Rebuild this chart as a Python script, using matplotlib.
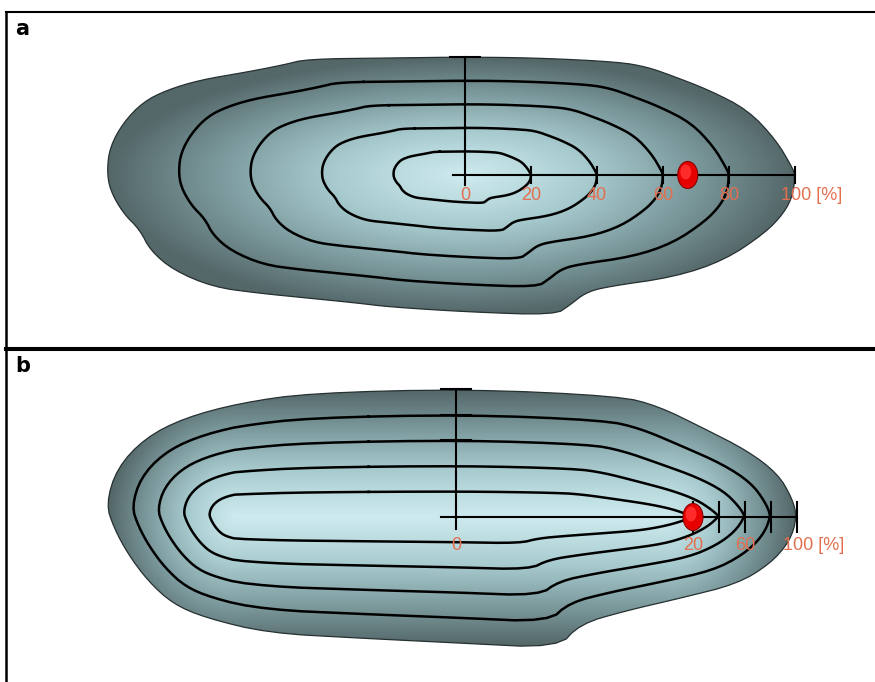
import numpy as np
import matplotlib.pyplot as plt
from matplotlib.patches import Polygon, Ellipse
from matplotlib.colors import LinearSegmentedColormap

# outline of each section, relative to the axis origin (y up)
outline_a_x = [-158, -75, 1, 75, 154, 182, 205, 244, 283, 311, 327, 330, 328, 319, 300,
               260, 210, 140, 120, 105, 90, 4, -75, -108, -158, -208, -252, -292, -315,
               -325, -342, -355, -358, -355, -342, -322, -298, -265, -218, -182]
outline_a_y = [116, 117, 118, 117, 113, 108, 100, 85, 65, 35, 8, 0, -20, -38, -58,
               -85, -102, -112, -118, -130, -140, -137, -132, -128, -123, -118, -112, -95, -75,
               -55, -38, -15, 5, 28, 52, 73, 85, 95, 103, 110]

outline_b_x = [-146, 10, 163, 202, 247, 292, 322, 336, 341, 334, 314, 281, 225, 169, 124,
               102, 2, -99, -188, -250, -283, -308, -328, -342, -350, -339, -311, -272, -216]
outline_b_y = [124, 128, 121, 111, 89, 66, 43, 19, 0, -24, -47, -67, -81, -94, -107,
               -131, -126, -121, -116, -101, -87, -64, -37, -11, 13, 49, 79, 99, 114]

# core that the contours shrink towards (left end, right end) on the x axis
core_a = (0, 0)
core_b = (-221, 211)

levels = [20, 40, 60, 80]  # % of the way from core to outline

ticks_a = [0, 20, 40, 60, 80, 100]
labels_a = ['0', '20', '40', '60', '80', '100 [%]']
ticks_b = [0, 20, 40, 60, 80, 100]
labels_b = ['0', '20', '', '60', '', '100 [%]']
vticks_a = [40, 80, 100]
vticks_b = [60, 80, 100]

dot_a = 67.5
dot_b = 20

blob_cmap = LinearSegmentedColormap.from_list(
    'blob', ['#cdeaee', '#a8cbcf', '#7c9a9d', '#546769'])
label_color = '#e2704f'


def chaikin(x, y, n=2):
    p = np.column_stack([x, y]).astype(float)
    for _ in range(n):
        q = np.roll(p, -1, axis=0)
        a = 0.75 * p + 0.25 * q
        b = 0.25 * p + 0.75 * q
        p = np.empty((2 * len(a), 2))
        p[0::2] = a
        p[1::2] = b
    return p[:, 0], p[:, 1]


def core_x(bx, by, core):
    """Matching point on the core segment for each outline point."""
    cl, cr = core
    seg = np.hypot(np.diff(np.append(bx, bx[0])), np.diff(np.append(by, by[0])))
    s = np.concatenate([[0], np.cumsum(seg)[:-1]])
    total = seg.sum()
    i0 = np.argmax(bx)
    il = np.argmin(bx)
    s = (s - s[i0]) % total
    sl = s[il]
    by_arc = np.where(s <= sl, cr - s / sl * (cr - cl),
                      cl + (s - sl) / (total - sl) * (cr - cl))
    # tapered towards the right end, rounded around the left end
    return np.minimum(np.clip(bx, cl, cr), by_arc)


def axis_pos(p, core, right):
    if p == 0:
        return 0.0
    return core[1] + p / 100 * (right - core[1])


def draw_section(ax, ox, oy, core, ticks, labels, vticks, dot, tick_half, label_dy, overhang):
    cl, cr = core
    bx, by = chaikin(ox, oy)
    right = max(ox)
    top = max(oy)

    # shaded body
    xs = np.linspace(bx.min(), bx.max(), 500)
    ys = np.linspace(by.min(), by.max(), 250)
    X, Y = np.meshgrid(xs, ys)
    dx = X - np.clip(X, cl, cr)
    rx = np.where(dx > 0, bx.max() - cr, cl - bx.min())
    ry = np.where(Y > 0, by.max(), -by.min())
    f = np.clip(np.hypot(dx / rx, Y / ry), 0, 1)
    im = ax.imshow(f ** 1.1, extent=(xs[0], xs[-1], ys[0], ys[-1]), origin='lower',
                   cmap=blob_cmap, vmin=0, vmax=1, aspect='auto',
                   interpolation='bilinear', zorder=1)
    patch = Polygon(np.column_stack([bx, by]), closed=True, fc='none',
                    ec='#263031', lw=0.9, zorder=2)
    ax.add_patch(patch)
    im.set_clip_path(patch)

    # contour lines
    cx = core_x(bx, by, core)
    for lv in levels:
        k = lv / 100
        lx = cx + k * (bx - cx)
        ly = k * by
        ax.plot(np.append(lx, lx[0]), np.append(ly, ly[0]), color='black',
                lw=1.8, solid_joinstyle='round', zorder=3)

    # axes cross
    ax.plot([-overhang, right], [0, 0], color='black', lw=1.5, zorder=4)
    ax.plot([0, 0], [-overhang * 0.8, top], color='black', lw=1.5, zorder=4)
    for p in ticks[1:]:
        x = axis_pos(p, core, right)
        ax.plot([x, x], [-tick_half, tick_half], color='black', lw=1.5, zorder=4)
    for p in vticks:
        y = p / 100 * top
        ax.plot([-15, 15], [y, y], color='black', lw=1.5, zorder=4)

    for p, lab in zip(ticks, labels):
        if not lab:
            continue
        x = axis_pos(p, core, right)
        if lab.endswith('[%]'):
            ax.text(x - 14, -label_dy, lab, color=label_color, fontsize=13,
                    family=['Liberation Sans', 'DejaVu Sans'], ha='left', va='center', zorder=5)
        else:
            ax.text(x, -label_dy, lab, color=label_color, fontsize=13,
                    family=['Liberation Sans', 'DejaVu Sans'], ha='center', va='center', zorder=5)

    xd = axis_pos(dot, core, right)
    ax.add_patch(Ellipse((xd, 0), 20, 27, fc='#e60000', ec='#8a0000', lw=0.8, zorder=6))
    ax.add_patch(Ellipse((xd - 2, 3), 11, 15, fc='#ff2a2a', ec='none', zorder=7))


fig = plt.figure(figsize=(8.75, 6.82), dpi=100)
W, H = 875, 682

ax_a = fig.add_axes([6 / W, (H - 349) / H, 869 / W, 337 / H])
ax_b = fig.add_axes([6 / W, 0, 869 / W, (H - 349) / H])

draw_section(ax_a, outline_a_x, outline_a_y, core_a, ticks_a, labels_a, vticks_a,
             dot_a, tick_half=8, label_dy=20, overhang=12)
draw_section(ax_b, outline_b_x, outline_b_y, core_b, ticks_b, labels_b, vticks_b,
             dot_b, tick_half=15, label_dy=28, overhang=15)

ax_a.set_xlim(6 - 465, W - 465)
ax_a.set_ylim(175 - 349, 175 - 12)
ax_b.set_xlim(6 - 456, W - 456)
ax_b.set_ylim(517 - H, 517 - 349)

for ax in (ax_a, ax_b):
    ax.set_xticks([])
    ax.set_yticks([])
    ax.patch.set_alpha(0)
    ax.spines['right'].set_visible(False)
    ax.spines['left'].set_linewidth(1.8)
ax_a.spines['top'].set_linewidth(1.5)
ax_a.spines['bottom'].set_linewidth(2.9)
ax_b.spines['top'].set_linewidth(2.9)
ax_b.spines['bottom'].set_visible(False)

fig.text(15 / W, 1 - 35 / H, 'a', fontsize=15, fontweight='bold',
         family=['Liberation Sans Narrow', 'DejaVu Sans'], va='baseline')
fig.text(15 / W, 1 - 372 / H, 'b', fontsize=15, fontweight='bold',
         family=['Liberation Sans Narrow', 'DejaVu Sans'], va='baseline')

fig.savefig('out.png', dpi=100)
